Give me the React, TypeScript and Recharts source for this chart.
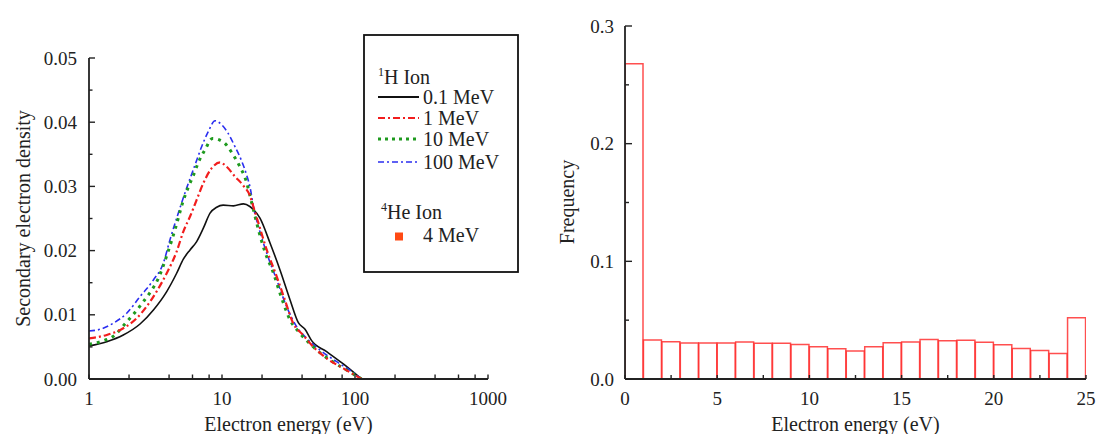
import React from 'react';
import { LineChart, Line, XAxis, YAxis, BarChart, Bar, Customized } from 'recharts';

const FONT = "'Liberation Serif', 'DejaVu Serif', serif";
const INK = '#222';

// ---------- Left panel: secondary electron spectra ----------
const energy01 = [1, 1.36, 1.81, 2.42, 3.05, 3.84, 4.56, 5.12, 5.75, 6.45, 7.24, 8.13, 9.12, 10.2, 12.2, 14.5, 16.2, 19.3, 23.0, 27.3, 32.5, 37.5, 42.1, 47.2, 61.2, 81.7, 112];
const density01 = [0.00515, 0.00582, 0.00686, 0.00857, 0.01076, 0.01362, 0.01647, 0.01866, 0.02011, 0.02141, 0.02349, 0.02583, 0.02676, 0.02708, 0.02697, 0.02728, 0.02687, 0.02505, 0.02115, 0.01699, 0.01232, 0.00878, 0.00774, 0.00598, 0.00426, 0.00234, 0];

const energy1 = [1, 1.36, 1.81, 2.28, 2.71, 3.22, 3.84, 4.56, 5.12, 5.75, 6.45, 7.24, 8.37, 9.66, 10.8, 12.5, 14.5, 16.3, 17.2, 18.8, 21.7, 25.8, 29.7, 34.3, 40.7, 48.4, 61.2, 81.7, 112];
const density1 = [0.00634, 0.00686, 0.0079, 0.00946, 0.01128, 0.01362, 0.01647, 0.01985, 0.02297, 0.02531, 0.02791, 0.03051, 0.03284, 0.03373, 0.0331, 0.03155, 0.03009, 0.02843, 0.02687, 0.02427, 0.02011, 0.01595, 0.01232, 0.00868, 0.00686, 0.00504, 0.00322, 0.00166, 0];

const energy10 = [1, 1.3, 1.57, 1.86, 2.19, 2.53, 2.91, 3.28, 3.88, 4.48, 5.12, 5.58, 6.1, 6.64, 7.45, 8.48, 10.3, 12.0, 13.6, 15.0, 17.0, 18.8, 21.0, 24.4, 27.3, 32.5, 38.6, 48.4, 64.8, 86.5, 112];
const density10 = [0.0054, 0.006, 0.00686, 0.00857, 0.01024, 0.0119, 0.01362, 0.01543, 0.01949, 0.02359, 0.0278, 0.02988, 0.03175, 0.03373, 0.0357, 0.03747, 0.03685, 0.03508, 0.0331, 0.03118, 0.02687, 0.02323, 0.01985, 0.01647, 0.01336, 0.0092, 0.00712, 0.00504, 0.00296, 0.0014, 0];

const energy100 = [1, 1.21, 1.52, 1.92, 2.42, 3.05, 3.62, 4.06, 4.69, 5.42, 6.27, 7.04, 7.89, 8.86, 9.94, 11.1, 12.5, 14.1, 15.3, 16.4, 17.2, 18.8, 21.7, 25.8, 30.6, 36.4, 43.3, 54.5, 72.8, 97.4, 112];
const density100 = [0.00748, 0.00774, 0.00868, 0.01024, 0.01284, 0.01543, 0.01803, 0.02167, 0.02583, 0.02973, 0.03336, 0.03622, 0.03856, 0.04022, 0.0396, 0.0383, 0.03622, 0.03388, 0.0318, 0.02947, 0.02687, 0.02375, 0.01959, 0.01543, 0.01128, 0.00816, 0.00634, 0.00452, 0.0027, 0.00099, 0];

const logTicks = [1, 2, 4, 6, 8, 10, 20, 40, 60, 80, 100, 200, 400, 600, 800, 1000];
const logMajor = [1, 10, 100, 1000];
const densityTicks = [0, 0.005, 0.01, 0.015, 0.02, 0.025, 0.03, 0.035, 0.04, 0.045, 0.05];
const densityMajor = [0, 0.01, 0.02, 0.03, 0.04, 0.05];

// ---------- Right panel: histogram (1 eV bins, value at bin centre) ----------
const binCentre = [0.5, 1.5, 2.5, 3.5, 4.5, 5.5, 6.5, 7.5, 8.5, 9.5, 10.5, 11.5, 12.5, 13.5, 14.5, 15.5, 16.5, 17.5, 18.5, 19.5, 20.5, 21.5, 22.5, 23.5, 24.5];
const frequency = [0.268, 0.0331, 0.0317, 0.0306, 0.0306, 0.0306, 0.0315, 0.0303, 0.0303, 0.0293, 0.0274, 0.0258, 0.0237, 0.0274, 0.0308, 0.0315, 0.0336, 0.0326, 0.0329, 0.0312, 0.0292, 0.026, 0.0243, 0.0217, 0.052];
const energyTicks = [0, 2.5, 5, 7.5, 10, 12.5, 15, 17.5, 20, 22.5, 25];
const energyMajor = [0, 5, 10, 15, 20, 25];
const freqTicks = [0, 0.05, 0.1, 0.15, 0.2, 0.25, 0.3];
const freqMajor = [0, 0.1, 0.2, 0.3];

const zip = (xs: number[], ys: number[]) => xs.map((e, i) => ({ e, d: ys[i] }));
const s01 = zip(energy01, density01);
const s1 = zip(energy1, density1);
const s10 = zip(energy10, density10);
const s100 = zip(energy100, density100);
const histData = binCentre.map((b, i) => ({ x: b, f: frequency[i] }));

const near = (arr: number[], v: number) => arr.some((a) => Math.abs(a - v) < 1e-9);

const LogXTick = (props: any) => {
  const { x, y, payload } = props;
  const v = payload.value;
  return (
    <g>
      <line x1={x} x2={x} y1={y} y2={y - 4.5} stroke={INK} strokeWidth={1.4} />
      {near(logMajor, v) && (
        <text x={x} y={y + 26} textAnchor="middle" fontFamily={FONT} fontSize={19} fill={INK}>{v}</text>
      )}
    </g>
  );
};

const DensityYTick = (props: any) => {
  const { x, y, payload } = props;
  const v = payload.value;
  const major = near(densityMajor, v);
  return (
    <g>
      <line x1={x} x2={x + (major ? 6 : 3.5)} y1={y} y2={y} stroke={INK} strokeWidth={1.4} />
      {major && (
        <text x={x - 12} y={y + 6.5} textAnchor="end" fontFamily={FONT} fontSize={19} fill={INK}>{v.toFixed(2)}</text>
      )}
    </g>
  );
};

const EnergyXTick = (props: any) => {
  const { x, y, payload } = props;
  const v = payload.value;
  return (
    <g>
      <line x1={x} x2={x} y1={y} y2={y - 4} stroke={INK} strokeWidth={1.4} />
      {near(energyMajor, v) && (
        <text x={x} y={y + 26} textAnchor="middle" fontFamily={FONT} fontSize={19} fill={INK}>{v}</text>
      )}
    </g>
  );
};

const FreqYTick = (props: any) => {
  const { x, y, payload } = props;
  const v = payload.value;
  const major = near(freqMajor, v);
  return (
    <g>
      <line x1={x} x2={x + (major ? 7 : 4)} y1={y} y2={y} stroke={INK} strokeWidth={1.4} />
      {major && (
        <text x={x - 11} y={y + 6.5} textAnchor="end" fontFamily={FONT} fontSize={19} fill={INK}>{v.toFixed(1)}</text>
      )}
    </g>
  );
};

const RED = '#f21d1d';
const GREEN = '#1e9a1e';
const BLUE = '#2a2ef0';
const ORANGE = '#ff4a14';

const legendRows = [
  { label: '0.1 MeV', stroke: '#111', dash: undefined, width: 2 },
  { label: '1 MeV', stroke: RED, dash: '7 3 2 3', width: 2 },
  { label: '10 MeV', stroke: GREEN, dash: '3 4', width: 3 },
  { label: '100 MeV', stroke: BLUE, dash: '6 3 2 3', width: 1.6 },
];
const legendRowY = [97, 118, 139, 162];

const LegendBox = () => (
  <g fontFamily={FONT} fill={INK}>
    <rect x={364} y={35} width={154} height={237} fill="#fff" stroke="#111" strokeWidth={1.8} />
    <text x={378} y={84} fontSize={20}>
      <tspan fontSize={12} dy={-8}>1</tspan>
      <tspan dy={8}>H Ion</tspan>
    </text>
    {legendRows.map((r, i) => (
      <g key={r.label}>
        <line x1={378} x2={419} y1={legendRowY[i]} y2={legendRowY[i]} stroke={r.stroke} strokeWidth={r.width} strokeDasharray={r.dash} />
        <text x={423} y={legendRowY[i] + 6.5} fontSize={20}>{r.label}</text>
      </g>
    ))}
    <text x={381} y={219} fontSize={20}>
      <tspan fontSize={12} dy={-8}>4</tspan>
      <tspan dy={8}>He Ion</tspan>
    </text>
    <rect x={395} y={232.5} width={8} height={8} fill={ORANGE} />
    <text x={423} y={242} fontSize={20}>4 MeV</text>
  </g>
);

const LeftTitles = () => (
  <g fontFamily={FONT} fill={INK} fontSize={20}>
    <text x={288.5} y={431} textAnchor="middle">Electron energy (eV)</text>
    <text x={23} y={218.5} textAnchor="middle" dominantBaseline="central" transform="rotate(-90 23 218.5)">Secondary electron density</text>
  </g>
);

const RightTitles = () => (
  <g fontFamily={FONT} fill={INK} fontSize={20}>
    <text x={315.5} y={431} textAnchor="middle">Electron energy (eV)</text>
    <text x={27} y={202} textAnchor="middle" dominantBaseline="central" transform="rotate(-90 27 202)">Frequency</text>
  </g>
);

export default function App() {
  return (
    <div style={{ position: 'absolute', left: 0, top: 0, width: 1096, height: 434, display: 'flex', background: '#fff' }}>
      <LineChart width={540} height={434} margin={{ top: 58, right: 52, bottom: 0, left: 0 }}>
        <XAxis
          type="number"
          dataKey="e"
          scale="log"
          domain={[1, 1000]}
          allowDataOverflow
          ticks={logTicks}
          interval={0}
          height={55}
          tickSize={0}
          tickMargin={0}
          tickLine={false}
          tick={<LogXTick />}
          axisLine={{ stroke: INK, strokeWidth: 1.8 }}
        />
        <YAxis
          type="number"
          domain={[0, 0.05]}
          allowDataOverflow
          ticks={densityTicks}
          interval={0}
          width={89}
          tickSize={0}
          tickMargin={0}
          tickLine={false}
          tick={<DensityYTick />}
          axisLine={{ stroke: INK, strokeWidth: 1.8 }}
        />
        <Line data={s01} dataKey="d" type="monotone" stroke="#111" strokeWidth={1.6} dot={false} isAnimationActive={false} />
        <Line data={s100} dataKey="d" type="monotone" stroke={BLUE} strokeWidth={1.6} strokeDasharray="6 3 2 3" dot={false} isAnimationActive={false} />
        <Line data={s10} dataKey="d" type="monotone" stroke={GREEN} strokeWidth={3} strokeDasharray="3 5" dot={false} isAnimationActive={false} />
        <Line data={s1} dataKey="d" type="monotone" stroke={RED} strokeWidth={2.2} strokeDasharray="7 3 2 3" dot={false} isAnimationActive={false} />
        <Customized component={LegendBox} />
        <Customized component={LeftTitles} />
      </LineChart>
      <BarChart width={556} height={434} data={histData} margin={{ top: 26, right: 10, bottom: 0, left: 0 }} barCategoryGap={0} barGap={0}>
        <XAxis
          dataKey="x"
          type="number"
          domain={[0, 25]}
          allowDataOverflow
          ticks={energyTicks}
          interval={0}
          height={55}
          tickSize={0}
          tickMargin={0}
          tickLine={false}
          tick={<EnergyXTick />}
          axisLine={{ stroke: INK, strokeWidth: 1.8 }}
        />
        <YAxis
          type="number"
          domain={[0, 0.3]}
          allowDataOverflow
          ticks={freqTicks}
          interval={0}
          width={85}
          tickSize={0}
          tickMargin={0}
          tickLine={false}
          tick={<FreqYTick />}
          axisLine={{ stroke: INK, strokeWidth: 1.8 }}
        />
        <Bar dataKey="f" fill="none" stroke="#ff3030" strokeOpacity={0.85} strokeWidth={1.5} isAnimationActive={false} />
        <Customized component={RightTitles} />
      </BarChart>
    </div>
  );
}
